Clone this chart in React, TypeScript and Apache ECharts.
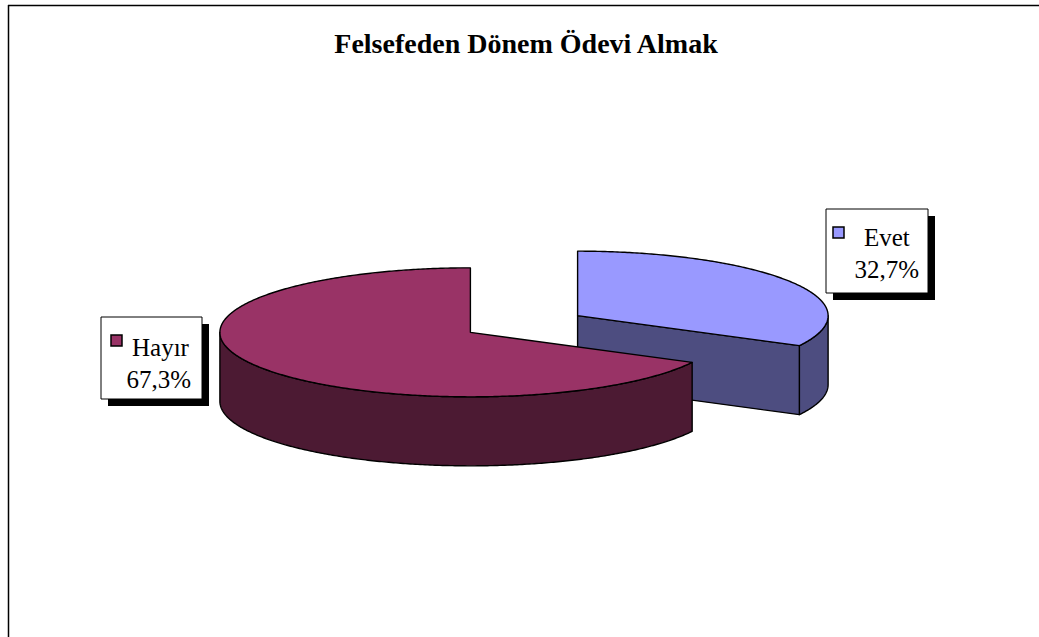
import React, { useEffect, useRef } from "react";
import * as echarts from "echarts";

const titleText = "Felsefeden Dönem Ödevi Almak";
const categories = ["Evet", "Hayır"];
const values = [32.7, 67.3];
const topColors = ["#9999FF", "#993366"];
const sideColors = ["#4D4D80", "#4C1A33"];

const FONT = "'Times New Roman', 'Liberation Serif', serif";

export default function App() {
  const ref = useRef<HTMLDivElement>(null);
  useEffect(() => {
    const chart = echarts.init(ref.current as HTMLDivElement, null, { renderer: "svg" });
    const total = values.reduce((a, b) => a + b, 0);
    const starts: number[] = [];
    let acc = 0;
    values.forEach((v) => {
      starts.push((acc / total) * 2 * Math.PI);
      acc += v;
    });

    const CX = 524, CY = 324, RX = 250.5, RY = 64.5, DEPTH = 69, EXPLODE = 0.25;
    const pt = (cx: number, cy: number, a: number, dy: number) => [
      cx + RX * Math.sin(a),
      cy - RY * Math.cos(a) + dy,
    ];
    const arc = (cx: number, cy: number, a0: number, a1: number, dy: number) => {
      const n = Math.max(2, Math.ceil(Math.abs(a1 - a0) / 0.01));
      const out: number[][] = [];
      for (let k = 0; k <= n; k++) out.push(pt(cx, cy, a0 + ((a1 - a0) * k) / n, dy));
      return out;
    };
    const stroke = { stroke: "#000", lineWidth: 1.4, lineJoin: "round" };

    const renderItem = (params: any, api: any) => {
      const i = params.dataIndex;
      const v = api.value(0);
      const a0 = starts[i];
      const a1 = a0 + (v / total) * 2 * Math.PI;
      const mid = (a0 + a1) / 2;
      const cx = CX + EXPLODE * RX * Math.sin(mid);
      const cy = CY - EXPLODE * RY * Math.cos(mid);
      const children: any[] = [];
      const side = { fill: sideColors[i], ...stroke };
      const s = Math.max(a0, Math.PI / 2);
      const e = Math.min(a1, (3 * Math.PI) / 2);
      if (e > s) {
        children.push({
          type: "polygon",
          shape: { points: arc(cx, cy, s, e, 0).concat(arc(cx, cy, e, s, DEPTH)) },
          style: side,
        });
      }
      const face = (a: number) => {
        const p = pt(cx, cy, a, 0);
        return {
          type: "polygon",
          shape: { points: [[cx, cy], p, [p[0], p[1] + DEPTH], [cx, cy + DEPTH]] },
          style: side,
        };
      };
      if (Math.sin(a0) < -1e-6) children.push(face(a0));
      if (Math.sin(a1) > 1e-6) children.push(face(a1));
      children.push({
        type: "polygon",
        shape: { points: [[cx, cy]].concat(arc(cx, cy, a0, a1, 0)) },
        style: { fill: topColors[i], ...stroke },
      });
      return { type: "group", children };
    };

    const pct = (v: number) => ((v / total) * 100).toFixed(1).replace(".", ",") + "%";

    const labelBox = (
      i: number,
      box: number[],
      key: number[],
      nameX: number,
      nameY: number,
      pctX: number,
      pctY: number
    ) => {
      const [x, y, w, h] = box;
      return [
        { type: "rect", shape: { x: x + 7, y: y + 7, width: w, height: h }, style: { fill: "#000" } },
        {
          type: "rect",
          shape: { x, y, width: w, height: h },
          style: { fill: "#fff", stroke: "#000", lineWidth: 1 },
        },
        {
          type: "rect",
          shape: { x: key[0], y: key[1], width: 11, height: 11 },
          style: { fill: topColors[i], stroke: "#000", lineWidth: 1.5 },
        },
        {
          type: "text",
          x: nameX,
          y: nameY,
          style: {
            text: categories[i],
            fill: "#000",
            font: `25px ${FONT}`,
            align: "left",
            verticalAlign: "middle",
          },
        },
        {
          type: "text",
          x: pctX,
          y: pctY,
          style: {
            text: pct(values[i]),
            fill: "#000",
            font: `25px ${FONT}`,
            align: "right",
            verticalAlign: "middle",
          },
        },
      ];
    };

    chart.setOption({
      animation: false,
      backgroundColor: "#fff",
      series: [
        {
          type: "custom",
          coordinateSystem: "none",
          renderItem,
          data: values.map((v) => [v]),
          silent: true,
        },
      ],
      graphic: [
        {
          type: "line",
          shape: { x1: 8, y1: 5.5, x2: 1039, y2: 5.5 },
          style: { stroke: "#000", lineWidth: 1.5 },
        },
        {
          type: "line",
          shape: { x1: 8.5, y1: 5, x2: 8.5, y2: 637 },
          style: { stroke: "#000", lineWidth: 1.5 },
        },
        {
          type: "text",
          x: 526,
          y: 43,
          style: {
            text: titleText,
            fill: "#000",
            font: `bold 28px ${FONT}`,
            align: "center",
            verticalAlign: "middle",
          },
        },
        ...labelBox(1, [101, 317, 101, 82], [111, 335], 132, 347, 191, 379),
        ...labelBox(0, [826, 209, 102, 84], [833, 227], 864, 237, 919, 269),
      ],
    });
    return () => chart.dispose();
  }, []);
  return (
    <div
      ref={ref}
      style={{ position: "fixed", left: 0, top: 0, width: 1039, height: 637 }}
    />
  );
}
